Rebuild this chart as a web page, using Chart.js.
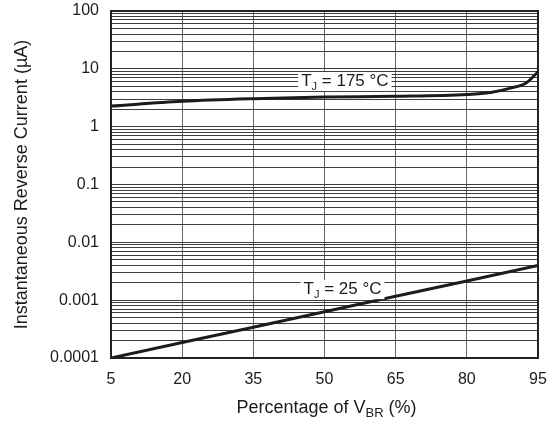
<!DOCTYPE html>
<html>
<head>
<meta charset="utf-8">
<script src="https://cdn.jsdelivr.net/npm/chart.js@4.4.1/dist/chart.umd.min.js"></script>
<style>
  html, body { margin: 0; padding: 0; background: #fff; }
  canvas { display: block; }
</style>
</head>
<body>
<canvas id="chart" width="552" height="424"></canvas>
<script>
// data
const pctBR = [5, 20, 35, 50, 65, 80, 85, 89, 92.5, 95];
const current175 = [2.27, 2.75, 3.05, 3.25, 3.35, 3.6, 3.9, 4.6, 5.7, 8.9];
const pct25 = [5, 20, 35, 50, 65, 80, 95];
const current25 = [0.0001, 0.000185, 0.00034, 0.00063, 0.00117, 0.00215, 0.004];
const xTicks = [5, 20, 35, 50, 65, 80, 95];
const yDecades = [0.0001, 0.001, 0.01, 0.1, 1, 10, 100];
const yTickLabels = ['0.0001', '0.001', '0.01', '0.1', '1', '10', '100'];

// every 1..9 step inside each decade, for the grid
const yGrid = [];
yDecades.forEach((d, i) => {
  if (i === yDecades.length - 1) { yGrid.push(d); return; }
  for (let m = 1; m <= 9; m++) yGrid.push(+(d * m).toPrecision(3));
});

const FONT = '"Liberation Sans", Arial, Helvetica, sans-serif';
const INK = '#1c1c1c';

// drop the extra room chart.js reserves for edge labels
const noEdgePad = (s) => {
  s.paddingTop = 0; s.paddingBottom = 0; s.paddingLeft = 0; s.paddingRight = 0;
};

// frame, curve labels and axis titles
const decor = {
  id: 'decor',
  afterDatasetsDraw(chart) {
    const { ctx, chartArea: a, scales: { x, y } } = chart;
    ctx.save();
    ctx.strokeStyle = '#222';
    ctx.lineWidth = 2;
    ctx.strokeRect(a.left, a.top, a.right - a.left, a.bottom - a.top);

    // curve labels with white boxes
    const tag = (px, py, temp) => {
      ctx.font = '17px ' + FONT;
      const w1 = ctx.measureText('T').width;
      ctx.font = '11px ' + FONT;
      const w2 = ctx.measureText('J').width;
      ctx.font = '17px ' + FONT;
      const rest = ' = ' + temp + ' °C';
      const w3 = ctx.measureText(rest).width;
      const total = w1 + w2 + w3;
      const left = px - total / 2;
      ctx.fillStyle = '#fff';
      ctx.fillRect(left - 3, py - 9, total + 6, 19);
      ctx.fillStyle = INK;
      ctx.textBaseline = 'middle';
      ctx.textAlign = 'left';
      ctx.fillText('T', left, py);
      ctx.font = '11px ' + FONT;
      ctx.fillText('J', left + w1, py + 6);
      ctx.font = '17px ' + FONT;
      ctx.fillText(rest, left + w1 + w2, py);
    };
    tag(x.getPixelForValue(54.3), y.getPixelForValue(6.15), '175');
    tag(x.getPixelForValue(53.8), y.getPixelForValue(0.00155), '25');

    // y title
    ctx.fillStyle = INK;
    ctx.font = '18px ' + FONT;
    ctx.textAlign = 'center';
    ctx.textBaseline = 'middle';
    ctx.translate(22, (a.top + a.bottom) / 2);
    ctx.rotate(-Math.PI / 2);
    ctx.fillText('Instantaneous Reverse Current (µA)', 0, 0);
    ctx.setTransform(1, 0, 0, 1, 0, 0);

    // x title with subscript
    const cx = (a.left + a.right) / 2 + 2, cy = 408;
    ctx.font = '18px ' + FONT;
    const p1 = 'Percentage of V', p3 = ' (%)';
    const w1 = ctx.measureText(p1).width, w3 = ctx.measureText(p3).width;
    ctx.font = '13px ' + FONT;
    const w2 = ctx.measureText('BR').width;
    const sx = cx - (w1 + w2 + w3) / 2;
    ctx.textAlign = 'left';
    ctx.font = '18px ' + FONT;
    ctx.fillText(p1, sx, cy);
    ctx.font = '13px ' + FONT;
    ctx.fillText('BR', sx + w1, cy + 5);
    ctx.font = '18px ' + FONT;
    ctx.fillText(p3, sx + w1 + w2, cy);
    ctx.restore();
  }
};

new Chart(document.getElementById('chart'), {
  type: 'line',
  data: {
    datasets: [
      {
        label: 'TJ = 175 °C',
        data: pctBR.map((v, i) => ({ x: v, y: current175[i] })),
        borderColor: INK,
        borderWidth: 3,
        pointRadius: 0,
        cubicInterpolationMode: 'monotone'
      },
      {
        label: 'TJ = 25 °C',
        data: pct25.map((v, i) => ({ x: v, y: current25[i] })),
        borderColor: INK,
        borderWidth: 3,
        pointRadius: 0
      }
    ]
  },
  options: {
    responsive: false,
    animation: false,
    layout: { padding: { top: 11, right: 14, left: 0, bottom: 0 } },
    plugins: { legend: { display: false }, tooltip: { enabled: false } },
    scales: {
      x: {
        type: 'linear',
        min: 5,
        max: 95,
        afterBuildTicks: (s) => { s.ticks = xTicks.map(v => ({ value: v })); },
        afterFit: (s) => { s.height = 66; noEdgePad(s); },
        border: { display: false },
        grid: { color: '#666', lineWidth: 1, drawTicks: false },
        ticks: { color: INK, font: { family: FONT, size: 16 }, padding: 12, maxRotation: 0 }
      },
      y: {
        type: 'logarithmic',
        min: 0.0001,
        max: 100,
        afterBuildTicks: (s) => { s.ticks = yGrid.map(v => ({ value: v })); },
        afterFit: (s) => { s.width = 111; noEdgePad(s); },
        border: { display: false },
        grid: { color: '#3c3c3c', lineWidth: 1, drawTicks: false },
        ticks: {
          color: INK,
          font: { family: FONT, size: 16 },
          padding: 12,
          autoSkip: false,
          callback: (v) => {
            const i = yDecades.findIndex(d => Math.abs(d - v) / d < 1e-6);
            return i >= 0 ? yTickLabels[i] : '';
          }
        }
      }
    }
  },
  plugins: [decor]
});
</script>
</body>
</html>
